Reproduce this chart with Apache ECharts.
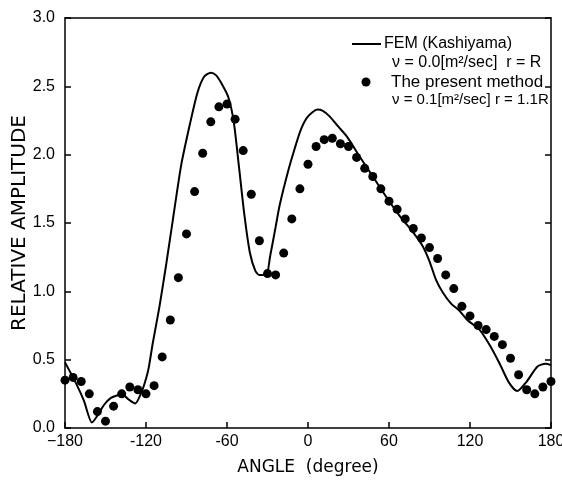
<!DOCTYPE html>
<html>
<head>
<meta charset="utf-8">
<script src="https://cdn.jsdelivr.net/npm/echarts@6/dist/echarts.min.js"></script>
<style>
  html, body { margin: 0; padding: 0; background: #fff; }
  #chart { width: 562px; height: 495px; }
</style>
</head>
<body>
<div id="chart"></div>
<script>
// tick labels
const xTicks = [-180, -120, -60, 0, 60, 120, 180];
const xTickText = ['\u2212180', '-120', '-60', '0', '60', '120', '180'];

// FEM (Kashiyama) curve: [angle, amplitude]
const femData = [
  [-180, 0.48], [-172, 0.33], [-166, 0.20], [-160, 0.04], [-156, 0.09],
  [-151, 0.17], [-146, 0.22], [-141, 0.24], [-138, 0.25], [-133, 0.21],
  [-128, 0.18], [-123, 0.27], [-120, 0.36], [-118, 0.44], [-115, 0.62],
  [-110, 0.89], [-105, 1.20], [-100, 1.53], [-94, 1.92], [-88, 2.20],
  [-82, 2.45], [-77, 2.57], [-72, 2.60], [-68, 2.58], [-64, 2.52],
  [-59, 2.42], [-55, 2.24], [-51, 1.90], [-47, 1.55], [-43, 1.28],
  [-39, 1.15], [-36, 1.12], [-31, 1.12], [-28, 1.26], [-24, 1.47],
  [-21, 1.63], [-15, 1.87], [-10, 2.04], [-5, 2.19], [0, 2.28],
  [7, 2.33], [11, 2.32], [16, 2.28], [22, 2.21], [29, 2.13],
  [38, 1.99], [48, 1.84], [58, 1.69], [68, 1.55], [78, 1.43],
  [85, 1.33], [90, 1.22], [95, 1.08], [100, 0.99], [106, 0.91],
  [112, 0.86], [118, 0.79], [127, 0.72], [135, 0.60], [142, 0.47],
  [149, 0.33], [155, 0.27], [162, 0.34], [170, 0.45], [176, 0.47],
  [180, 0.46]
];

// The present method, dots every 6 degrees
const presentAngles = [
  -180, -174, -168, -162, -156, -150, -144, -138, -132, -126, -120,
  -114, -108, -102, -96, -90, -84, -78, -72, -66, -60,
  -54, -48, -42, -36, -30, -24, -18, -12, -6, 0,
  6, 12, 18, 24, 30, 36, 42, 48, 54, 60,
  66, 72, 78, 84, 90, 96, 102, 108, 114, 120,
  126, 132, 138, 144, 150, 156, 162, 168, 174, 180
];
const presentValues = [
  0.35, 0.37, 0.34, 0.25, 0.12, 0.05, 0.16, 0.25, 0.30, 0.28, 0.25,
  0.31, 0.52, 0.79, 1.10, 1.42, 1.73, 2.01, 2.24, 2.35, 2.37,
  2.26, 2.03, 1.71, 1.37, 1.13, 1.12, 1.28, 1.53, 1.75, 1.93,
  2.06, 2.11, 2.12, 2.08, 2.06, 1.98, 1.90, 1.84, 1.75, 1.66,
  1.60, 1.53, 1.46, 1.39, 1.32, 1.24, 1.12, 1.02, 0.89, 0.82,
  0.75, 0.72, 0.67, 0.61, 0.51, 0.39, 0.28, 0.25, 0.30, 0.34
];

const font = 'Liberation Sans';
const wide = 'DejaVu Sans';
const axisLine = { show: true, onZero: false, lineStyle: { color: '#000', width: 1.5 } };
const tick = { show: true, inside: true, length: 6, lineStyle: { color: '#000', width: 1.5 } };

const chart = echarts.init(document.getElementById('chart'));
chart.setOption({
  animation: false,
  backgroundColor: '#fff',
  grid: { left: 65, right: 11, top: 18, bottom: 67, outerBoundsMode: 'none', containLabel: false },
  xAxis: [
    {
      type: 'value',
      min: -180,
      max: 180,
      interval: 60,
      name: 'ANGLE  (degree)',
      nameLocation: 'middle',
      nameGap: 31,
      nameMoveOverlap: false,
      nameTextStyle: { fontFamily: wide, fontSize: 17, color: '#000' },
      axisLine: axisLine,
      axisTick: tick,
      axisLabel: {
        fontFamily: font, fontSize: 16, color: '#000', margin: 6,
        formatter: (v) => xTickText[xTicks.indexOf(v)]
      },
      splitLine: { show: false }
    },
    {
      type: 'value',
      position: 'top',
      min: -180,
      max: 180,
      axisLine: axisLine,
      axisTick: { show: false },
      axisLabel: { show: false },
      splitLine: { show: false }
    }
  ],
  yAxis: [
    {
      type: 'value',
      min: 0,
      max: 3,
      interval: 0.5,
      name: 'RELATIVE AMPLITUDE',
      nameLocation: 'middle',
      nameGap: 35,
      nameMoveOverlap: false,
      nameTextStyle: { fontFamily: wide, fontSize: 20, color: '#000' },
      axisLine: axisLine,
      axisTick: tick,
      axisLabel: {
        fontFamily: font, fontSize: 16, color: '#000', margin: 10,
        formatter: (v) => v.toFixed(1)
      },
      splitLine: { show: false }
    },
    {
      type: 'value',
      position: 'right',
      min: 0,
      max: 3,
      interval: 0.5,
      axisLine: axisLine,
      axisTick: tick,
      axisLabel: { show: false },
      splitLine: { show: false }
    }
  ],
  series: [
    {
      name: 'FEM (Kashiyama)',
      type: 'line',
      data: femData,
      smooth: 0.25,
      showSymbol: false,
      lineStyle: { color: '#000', width: 2 },
      z: 2
    },
    {
      name: 'The present method',
      type: 'scatter',
      data: presentAngles.map((a, i) => [a, presentValues[i]]),
      symbol: 'circle',
      symbolSize: 9,
      itemStyle: { color: '#000', opacity: 1 },
      z: 3
    }
  ],
  graphic: [
    { type: 'line', shape: { x1: 352, y1: 44, x2: 381, y2: 44 }, style: { stroke: '#000', lineWidth: 2 } },
    { type: 'text', x: 384, y: 44, style: { text: 'FEM (Kashiyama)', font: '16px ' + font, fill: '#000', verticalAlign: 'middle' } },
    { type: 'text', x: 392, y: 63, style: { text: '\u03bd = 0.0[m\u00b2/sec]  r = R', font: '16px ' + font, fill: '#000', verticalAlign: 'middle' } },
    { type: 'circle', shape: { cx: 366, cy: 82, r: 4.5 }, style: { fill: '#000' } },
    { type: 'text', x: 391, y: 82, style: { text: 'The present method', font: '17px ' + font, fill: '#000', verticalAlign: 'middle' } },
    { type: 'text', x: 392, y: 100, style: { text: '\u03bd = 0.1[m\u00b2/sec] r = 1.1R', font: '15px ' + font, fill: '#000', verticalAlign: 'middle' } }
  ]
});
</script>
</body>
</html>
